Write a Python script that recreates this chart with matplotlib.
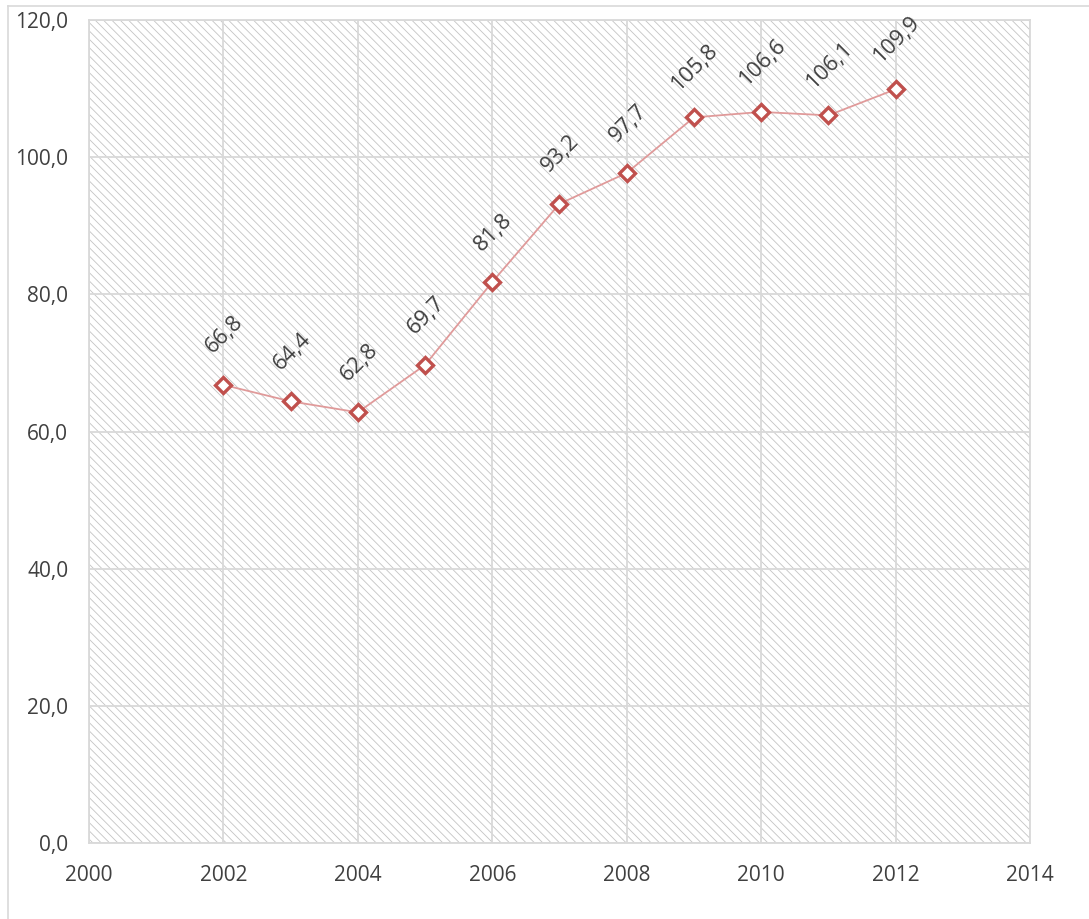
import matplotlib.pyplot as plt
from matplotlib.lines import Line2D
from matplotlib.patches import Rectangle
from matplotlib.ticker import FuncFormatter

anos = [2002, 2003, 2004, 2005, 2006, 2007, 2008, 2009, 2010, 2011, 2012]
valores = [66.8, 64.4, 62.8, 69.7, 81.8, 93.2, 97.7, 105.8, 106.6, 106.1, 109.9]
xticks = [2000, 2002, 2004, 2006, 2008, 2010, 2012, 2014]
yticks = [0, 20, 40, 60, 80, 100, 120]

plt.rcParams['font.family'] = ['Open Sans', 'DejaVu Sans']
plt.rcParams['hatch.linewidth'] = 0.6

fig = plt.figure(figsize=(10.89, 9.19), dpi=100)
ax = fig.add_axes([0.0817, 0.0827, 0.8641, 0.8955])

# fundo hachurado
fundo = Rectangle((0, 0), 1, 1, transform=ax.transAxes, facecolor='white',
                  edgecolor='#c4c4c4', linewidth=0, hatch='\\' * 4, zorder=0)
ax.add_patch(fundo)

ax.plot(anos, valores, color='#e09a9a', linewidth=1.3, zorder=3)
ax.plot(anos, valores, linestyle='none', marker='D', markersize=8.3,
        markerfacecolor='white', markeredgecolor='#c0504d', markeredgewidth=2.4,
        zorder=4)

for a, v in zip(anos, valores):
    ax.annotate(f"{v:.1f}".replace('.', ','), (a, v), xytext=(1, 36),
                textcoords='offset points', rotation=45, ha='center', va='center',
                fontsize=16, color='#404040', zorder=5)

ax.set_xlim(2000, 2014)
ax.set_ylim(0, 120)
ax.set_xticks(xticks)
ax.set_yticks(yticks)
ax.yaxis.set_major_formatter(FuncFormatter(lambda y, p: f"{y:.1f}".replace('.', ',')))
ax.tick_params(length=0, labelsize=15, labelcolor='#404040')
ax.tick_params(axis='x', pad=16)
ax.tick_params(axis='y', pad=15)
ax.grid(True, color='#d9d9d9', linewidth=1.3, zorder=1)
ax.set_axisbelow(True)
for s in ax.spines.values():
    s.set_color('#d9d9d9')
    s.set_linewidth(1.3)

# moldura externa
fig.add_artist(Line2D([8 / 1089, 1], [1 - 6 / 919, 1 - 6 / 919], color='#d9d9d9', linewidth=1.2))
fig.add_artist(Line2D([8 / 1089, 8 / 1089], [0, 1 - 6 / 919], color='#d9d9d9', linewidth=1.2))

plt.savefig('out.png', dpi=100)
plt.close()
